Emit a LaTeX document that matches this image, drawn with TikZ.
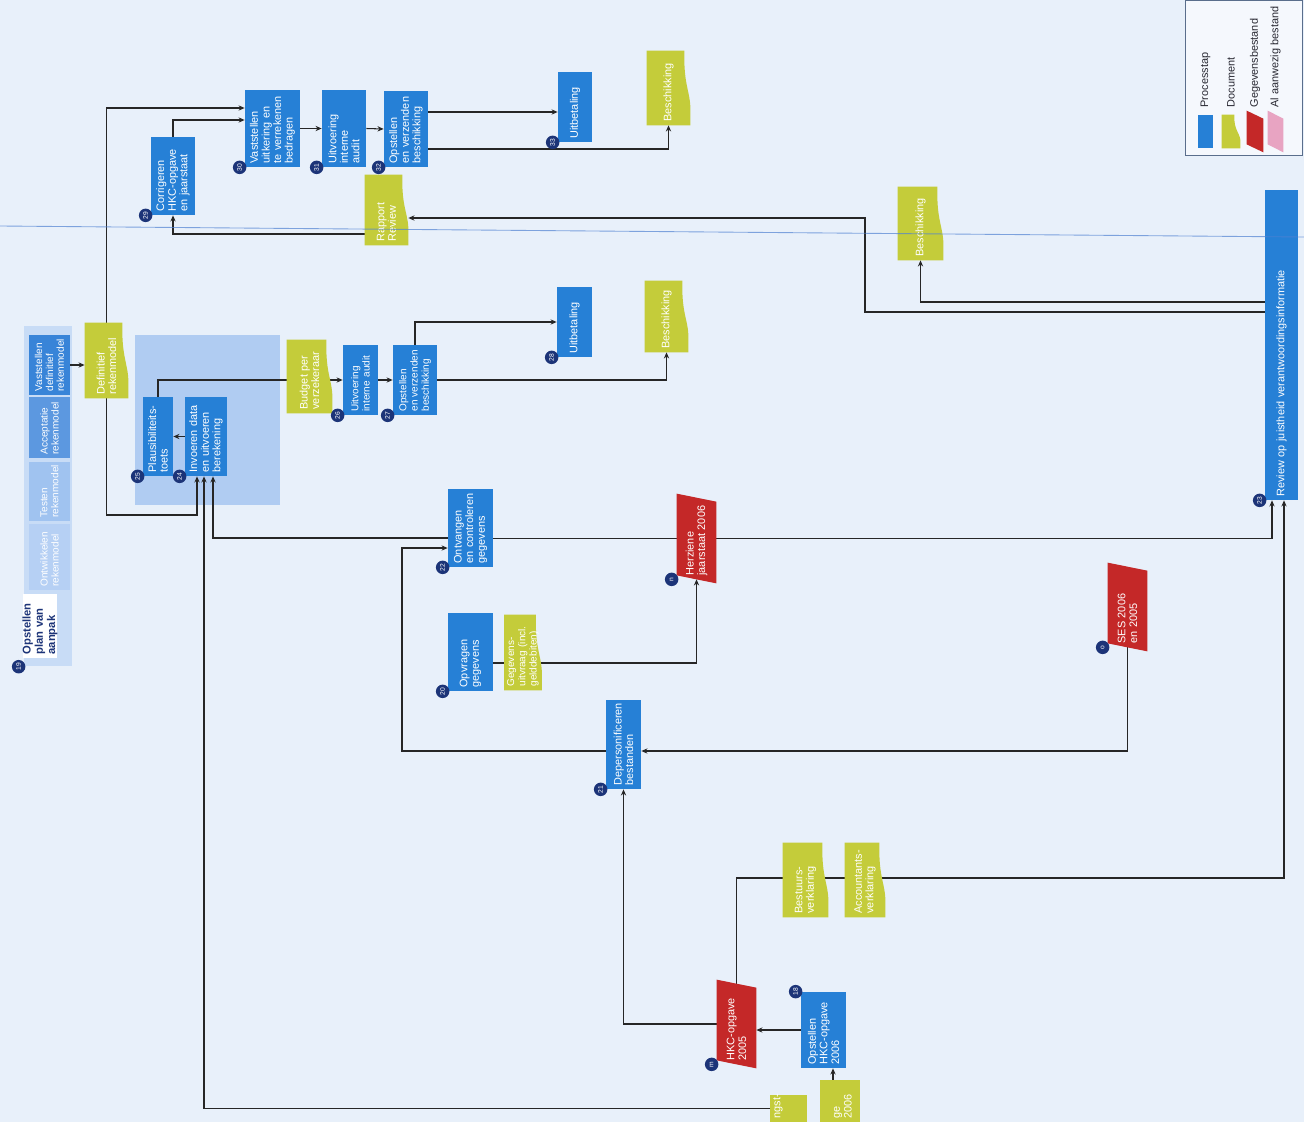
\documentclass[tikz,border=0pt]{standalone}
\usepackage{fontspec}
\setmainfont{Liberation Sans}
\usetikzlibrary{arrows.meta,calc}
\pgfdeclarelayer{bg}
\pgfdeclarelayer{lines}
\pgfdeclarelayer{shapes}
\pgfsetlayers{bg,lines,shapes,main}
\definecolor{procblue}{RGB}{38,128,214}
\definecolor{docyellow}{RGB}{196,204,58}
\definecolor{datared}{RGB}{196,40,40}
\definecolor{pinkfile}{RGB}{232,164,194}
\definecolor{navy}{RGB}{28,52,120}
\definecolor{pagebg}{RGB}{232,240,250}
\definecolor{grpblue}{RGB}{176,204,242}
\definecolor{gband}{RGB}{200,220,246}
\definecolor{gA}{RGB}{182,208,244}
\definecolor{gB}{RGB}{160,195,240}
\definecolor{gC}{RGB}{92,152,224}
\definecolor{gD}{RGB}{56,132,216}
\definecolor{lgline}{RGB}{90,110,140}
\definecolor{lgink}{RGB}{40,40,50}
\definecolor{foldblue}{RGB}{80,130,210}
% size of a rotated box, given as page width and page height in px
\tikzset{sz/.code 2 args={%
  \pgfmathsetmacro\szw{#1*0.02}%
  \pgfmathsetmacro\szh{#2*0.02}%
  \pgfmathsetmacro\sztw{#2*0.02*28.45274-4}%
  \edef\szkeys{minimum height=\szw cm, minimum width=\szh cm, text width=\sztw pt}%
  \expandafter\pgfkeysalso\expandafter{\szkeys}}}
\begin{document}
\begin{tikzpicture}[x=0.02cm,y=0.02cm,
    every node/.style={font=\fontsize{6.2}{6.6}\selectfont},
    proc/.style={rotate=90,fill=procblue,text=white,align=left,inner xsep=2pt,inner ysep=1pt},
    sub/.style={proc,font=\fontsize{5.7}{6.2}\selectfont},
    small/.style={font=\fontsize{5.7}{6.4}\selectfont},
    doc/.style={rotate=90,text=white,align=left,inner xsep=2pt,inner ysep=1pt},
    data/.style={doc},
    grp/.style={rotate=90,fill=grpblue},
    nr/.style={circle,fill=navy,text=white,inner sep=0pt,minimum size=0.27cm,rotate=90,font=\fontsize{3.8}{4}\selectfont},
    lgtext/.style={rotate=90,anchor=west,inner sep=0pt,text=lgink,font=\fontsize{6.2}{7}\selectfont},
    arr/.style={-{Stealth[length=3.5pt,width=3pt]}}]
\useasboundingbox (0,0) rectangle (1304,-1122);
\begin{pgfonlayer}{bg}
  \fill[pagebg] (0,0) rectangle (1304,-1122);
  \node[grp,fill=gband,sz={48}{336}] (grp19) at (48,-496) {};
  \node[grp,sz={145}{166}] (grp2) at (207.5,-420) {};
  \node[rotate=90,draw=lgline,fill=white!55!pagebg,sz={117}{150}] (lgframe) at (1243.5,-78) {};
\end{pgfonlayer}

% plan van aanpak
\node[proc,fill=white,text=navy,font=\bfseries\fontsize{6.4}{5.6}\selectfont,inner ysep=0pt,sz={30}{64}] (plan) at (40,-626) {Opstellen\\plan van\\aanpak};
\node[sub,fill=gA,sz={41}{66}] (ontw) at (49.5,-557) {Ontwikkelen\\rekenmodel};
\node[sub,fill=gB,sz={41}{59}] (test) at (49.5,-491.5) {Testen\\rekenmodel};
\node[sub,fill=gC,sz={41}{61}] (acc) at (49.5,-427.5) {Acceptatie\\rekenmodel};
\node[sub,fill=gD,sz={41}{60}] (vast) at (49.5,-365) {Vaststellen\\definitief\\rekenmodel};
\node[doc,sz={43}{75}] (defmod) at (106.5,-360.5) {Definitief\\rekenmodel};

% berekening
\node[proc,sz={30}{79}] (b25) at (158,-436.5) {Plausibiliteits-\\toets};
\node[proc,sz={42}{79}] (b24) at (206,-436.5) {Invoeren data\\en uitvoeren\\berekening};
\node[doc,sz={45}{73}] (budget) at (309.5,-376.5) {Budget per\\verzekeraar};
\node[proc,small,sz={35}{70}] (b26) at (360.5,-380) {Uitvoering\\interne audit};
\node[proc,small,sz={44}{70}] (b27) at (415,-380) {Opstellen\\en verzenden\\beschikking};
\node[proc,sz={35}{70}] (b28) at (574.5,-322) {Uitbetaling};
\node[doc,sz={43}{71}] (besch2) at (666.5,-316.5) {Beschikking};

% correctie
\node[proc,sz={44}{78}] (b29) at (173,-176) {Corrigeren\\HKC-opgave\\en jaarstaat};
\node[proc,sz={55}{77}] (b30) at (272.5,-128.5) {Vaststellen\\uitkering en\\te verrekenen\\bedragen};
\node[proc,sz={44}{77}] (b31) at (344,-128.5) {Uitvoering\\interne\\audit};
\node[proc,sz={44}{76}] (b32) at (406,-129) {Opstellen\\en verzenden\\beschikking};
\node[proc,sz={34}{70}] (b33) at (575,-107) {Uitbetaling};
\node[doc,sz={43}{74}] (besch1) at (668.5,-88) {Beschikking};
\node[doc,sz={43}{70}] (rapport) at (386.5,-210) {Rapport\\Review};
\node[doc,sz={45}{73}] (besch3) at (920.5,-223.5) {Beschikking};
\node[proc,sz={33}{310}] (b23) at (1281.5,-345) {Review op juistheid verantwoordingsinformatie};

% gegevens
\node[proc,sz={45}{78}] (b22) at (470.5,-528) {Ontvangen\\en controleren\\gegevens};
\node[proc,sz={45}{78}] (b20) at (470.5,-652) {Opvragen\\gegevens};
\node[doc,small,sz={37}{75}] (uitvraag) at (523,-652.5) {Gegevens-\\uitvraag (incl.\\gelddebiten)};
\node[data,sz={39}{81}] (herz) at (696.5,-538.5) {Herziene\\jaarstaat 2006};
\node[proc,sz={35}{89}] (b21) at (623.5,-744.5) {Depersonificeren\\bestanden};
\node[data,sz={39}{80}] (ses) at (1127.5,-607) {SES 2006\\en 2005};
\node[doc,sz={45}{74}] (bestuur) at (805.5,-880) {Bestuurs-\\verklaring};
\node[doc,sz={40}{74}] (accnt) at (865,-880) {Accountants-\\verklaring};
\node[data,sz={39}{80}] (hkc05) at (736.5,-1024) {HKC-opgave\\2005};
\node[proc,sz={45}{76}] (b18) at (823.5,-1030) {Opstellen\\HKC-opgave\\2006};
\node[doc,sz={37}{27}] (ontv) at (788.5,-1108.5) {ngst-\\\mbox{}};
\node[doc,sz={40}{42}] (aanvr) at (840,-1101) {\mbox{}\\ge 2006};

% legenda
\node[proc,sz={15}{33}] (lg1) at (1205.5,-131.5) {};
\node[doc,sz={18}{33}] (lg2) at (1231,-131.5) {};
\node[data,sz={16}{33}] (lg3) at (1255,-131.5) {};
\node[data,sz={15}{33}] (lg4) at (1275.5,-131.5) {};
\node[lgtext] (lt1) at ($(lg1.east)+(0,7)$) {Processtap};
\node[lgtext] (lt2) at ($(lg2.east)+(0,7)$) {Document};
\node[lgtext] (lt3) at ($(lg3.east)+(0,7)$) {Gegevensbestand};
\node[lgtext] (lt4) at ($(lg4.east)+(0,7)$) {Al aanwezig bestand};

\foreach \nd/\t/\a in {grp19/19/north west,b29/29/north west,b30/30/north west,b31/31/north west,
    b32/32/north west,b33/33/north west,b25/25/north west,b24/24/north west,b26/26/north west,
    b27/27/north west,b28/28/north west,b22/22/north west,b20/20/north west,b21/21/north west,
    b23/23/north west,hkc05/m/north west,herz/n/north west,ses/o/north west,b18/18/north east}
  \node[nr] (c\t) at ($(\nd.\a)+(-5,0)$) {\t};

% document and file shapes
\begin{pgfonlayer}{shapes}
  \foreach \nd in {defmod,budget,besch1,besch2,besch3,rapport,uitvraag,bestuur,accnt,lg2}
    \fill[docyellow] (\nd.north west) -- (\nd.north east) -- ($(\nd.south east)+(-6,0)$)
      .. controls ($(\nd.south east)!0.5!(\nd.south west)+(-7,0)$) and ($(\nd.south east)!0.55!(\nd.south west)+(1,0)$)
      .. ($(\nd.south east)!0.85!(\nd.south west)$) -- (\nd.south west) -- cycle;
  \foreach \nd in {ontv,aanvr}
    \fill[docyellow] (\nd.north west) rectangle (\nd.south east);
  \foreach \nd/\c in {herz/datared,ses/datared,hkc05/datared,lg3/datared,lg4/pinkfile}
    \fill[\c] ($(\nd.north west)+(0,4)$) -- ($(\nd.north east)+(0,4)$)
      -- ($(\nd.south east)+(0,-4)$) -- ($(\nd.south west)+(0,-4)$) -- cycle;
\end{pgfonlayer}

% connectors
\begin{pgfonlayer}{lines}
\begin{scope}[line width=0.6pt,black!85]
  \coordinate (in1) at ($(b24.west)+(-9,0)$);
  \coordinate (in2) at ($(b24.west)+(-2,0)$);
  \coordinate (in3) at ($(b24.west)+(7,0)$);
  \coordinate (in23a) at ($(b23.west)+(-9.5,0)$);
  \coordinate (in23b) at ($(b23.west)+(2.5,0)$);
  \draw[arr] (vast.south) -- (vast.south -| defmod.north);
  \draw[arr] (defmod.east) |- (b30.north |- 0,-108);
  \draw[arr] (b29.east) |- (b30.north |- 0,-120);
  \draw[arr] (b30.south) -- (b31.north);
  \draw[arr] (b31.south) -- (b32.north);
  \draw[arr] (b32.south |- 0,-112) -- (b33.north |- 0,-112);
  \draw[arr] (b32.south |- 0,-149) -| (besch1.west);
  \draw[arr] (b23.north |- 0,-312) -| (865,-218) -- (rapport.south |- 0,-218);
  \draw[arr] (rapport.north |- 0,-234) -| (b29.west);
  \draw[arr] (b23.north |- 0,-302) -| (besch3.west);
  \draw[arr] (defmod.west) |- (in1 |- 0,-515) -- (in1);
  \draw[arr] (b22.north |- 0,-538) -| (in3);
  \draw[arr] (ontv.north) -| (in2);
  \draw[arr] (b24.north) -- (b25.south);
  \draw[arr] (b25.east) |- (b26.north);
  \draw[arr] (b26.south) -- (b27.north);
  \draw[arr] (b27.east) |- (b28.north);
  \draw[arr] (b27.south) -| (besch2.west);
  \draw (b22.south |- herz.north) -- (herz.north);
  \draw[arr] (herz.south) -| (in23a);
  \draw[arr] (b20.south |- 0,-663) -| (herz.west);
  \draw[arr] (b21.north |- 0,-751) -| (402,-548) -- (b22.north |- 0,-548);
  \draw[arr] (ses.center) |- (b21.south |- 0,-751);
  \draw[arr] (hkc05.north) -| (b21.west);
  \draw[arr] (b18.north) -- (b18.north -| hkc05.south);
  \draw[arr] (aanvr.east -| 833,0) -- (b18.west -| 833,0);
  \draw[arr] (hkc05.east) |- (in23b |- 0,-878) -- (in23b);
\end{scope}
\end{pgfonlayer}

% fold of the scanned page
\draw[foldblue,line width=0.5pt,opacity=0.7] (0,-226) -- (1304,-237);
\end{tikzpicture}
\end{document}
